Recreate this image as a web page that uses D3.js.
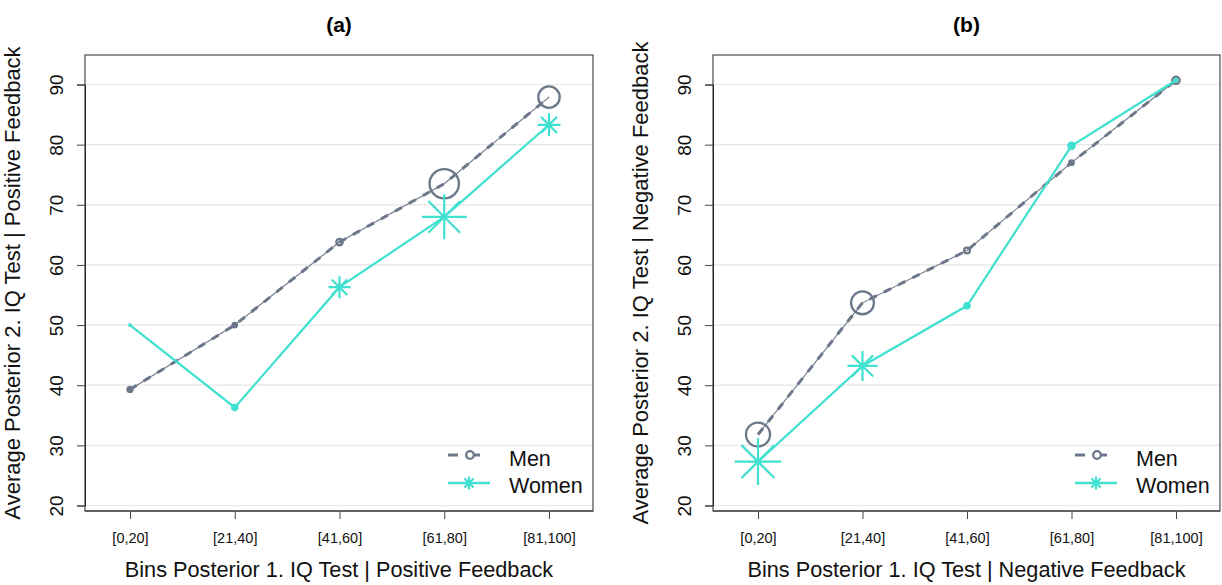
<!DOCTYPE html>
<html><head><meta charset="utf-8">
<script src="https://cdn.jsdelivr.net/npm/d3@7"></script>
<style>body{margin:0;background:#fff;} svg{display:block;font-family:"Liberation Sans",Arial,sans-serif;}</style>
</head><body><svg id="c" width="1222" height="585"></svg>
<script>
// ---------------- data ----------------
const categories = ["[0,20]", "[21,40]", "[41,60]", "[61,80]", "[81,100]"];
const yTicks = [20, 30, 40, 50, 60, 70, 80, 90];
const seriesNames = ["Men", "Women"];
const panelTitles = ["(a)", "(b)"];
const xTitles = ["Bins Posterior 1. IQ Test | Positive Feedback", "Bins Posterior 1. IQ Test | Negative Feedback"];
const yTitles = ["Average Posterior 2. IQ Test | Positive Feedback", "Average Posterior 2. IQ Test | Negative Feedback"];
const menPositive = [39.3, 50.0, 63.8, 73.5, 87.9];
const womenPositive = [50.0, 36.3, 56.3, 68.0, 83.3];
const menNegative = [31.8, 53.7, 62.4, 77.0, 90.7];
const womenNegative = [27.3, 43.2, 53.2, 79.8, 90.7];
// relative number of observations per bin (marker area weights)
const menPositiveWeight = [11, 9, 16, 240, 132];
const womenPositiveWeight = [2, 14, 121, 506, 132];
const menNegativeWeight = [164, 150, 14, 9, 20];
const womenNegativeWeight = [543, 225, 14, 18, 6];

// ---------------- drawing ----------------
const svg = d3.select("#c");
const MEN = "#6c7789", WOMEN = "#40e0d0";
const plotTop = 55, plotBottom = 511;
const panels = [
  {x0: 85, x1: 593, men: menPositive, women: womenPositive, mw: menPositiveWeight, ww: womenPositiveWeight},
  {x0: 713, x1: 1220, men: menNegative, women: womenNegative, mw: menNegativeWeight, ww: womenNegativeWeight}
];
const rScale = d3.scaleSqrt().domain([0, 543]).range([0, 23.3]);

function starPath(r) {
  const d = r * Math.SQRT1_2;
  return `M${-r},0L${r},0M0,${-r}L0,${r}M${-d},${-d}L${d},${d}M${-d},${d}L${d},${-d}`;
}

panels.forEach((p, i) => {
  const g = svg.append("g");
  const x = d3.scalePoint().domain(categories).range([p.x0 + 45, p.x1 - 44]);
  const y = d3.scaleLinear().domain([20, 90]).range([505.5, 84.5]);

  // gridlines
  g.append("g").selectAll("line").data(yTicks).join("line")
    .attr("x1", p.x0).attr("x2", p.x1)
    .attr("y1", d => y(d)).attr("y2", d => y(d))
    .attr("stroke", "#e6e6e6").attr("stroke-width", 1.2);

  // frame
  g.append("rect").attr("x", p.x0).attr("y", plotTop).attr("width", p.x1 - p.x0).attr("height", plotBottom - plotTop)
    .attr("fill", "none").attr("stroke", "#3a3a3a").attr("stroke-width", 1.1);

  // y axis
  const ya = g.append("g").attr("transform", `translate(${p.x0},0)`)
    .call(d3.axisLeft(y).tickValues(yTicks).tickSize(8).tickFormat(d3.format("d")));
  ya.select(".domain").attr("stroke", "#222");
  ya.selectAll(".tick line").attr("stroke", "#444");
  ya.selectAll(".tick text").attr("transform", "rotate(-90)")
    .attr("x", 0).attr("y", -22).attr("dy", 0).attr("text-anchor", "middle")
    .attr("font-size", 19).attr("fill", "#111").attr("font-family", "Liberation Sans, Arial, sans-serif");

  // x axis
  const xa = g.append("g").attr("transform", `translate(0,${plotBottom})`)
    .call(d3.axisBottom(x).tickSize(8));
  xa.select(".domain").attr("stroke", "#333").attr("d", `M${p.x0},0H${p.x1}`);
  xa.selectAll(".tick line").attr("stroke", "#444");
  xa.selectAll(".tick text").attr("y", 32).attr("dy", 0)
    .attr("font-size", 14.5).attr("fill", "#111").attr("font-family", "Liberation Sans, Arial, sans-serif");

  // titles
  g.append("text").attr("x", (p.x0 + p.x1) / 2).attr("y", 32).attr("text-anchor", "middle")
    .attr("font-weight", "bold").attr("font-size", 21).text(panelTitles[i]);
  g.append("text").attr("x", (p.x0 + p.x1) / 2).attr("y", 577).attr("text-anchor", "middle")
    .attr("font-size", 21.7).attr("fill", "#111").text(xTitles[i]);
  g.append("text").attr("transform", `translate(${p.x0 - 65},${(plotTop + plotBottom) / 2}) rotate(-90)`)
    .attr("text-anchor", "middle").attr("font-size", 22).attr("fill", "#111").text(yTitles[i]);

  // men line: thin solid + thick dashes
  const line = d3.line().x((d, j) => x(categories[j])).y(d => y(d));
  g.append("path").attr("d", line(p.men)).attr("fill", "none").attr("stroke", MEN).attr("stroke-width", 1.1);
  g.append("path").attr("d", line(p.men)).attr("fill", "none").attr("stroke", MEN)
    .attr("stroke-width", 3).attr("stroke-dasharray", "8,8");
  // men markers (hollow circles; very small ones render solid)
  g.append("g").selectAll("circle").data(p.men).join("circle")
    .attr("cx", (d, j) => x(categories[j])).attr("cy", d => y(d))
    .attr("r", (d, j) => Math.max(2.2, rScale(p.mw[j]) - 0.8))
    .attr("fill", (d, j) => rScale(p.mw[j]) < 3.6 ? MEN : "none")
    .attr("stroke", MEN).attr("stroke-width", 2.3);

  // women line
  g.append("path").attr("d", line(p.women)).attr("fill", "none").attr("stroke", WOMEN).attr("stroke-width", 2.2);
  g.append("g").selectAll("path").data(p.women).join("path")
    .attr("transform", (d, j) => `translate(${x(categories[j])},${y(d)})`)
    .attr("d", (d, j) => starPath(Math.max(1.5, rScale(p.ww[j]))))
    .attr("fill", "none").attr("stroke", WOMEN)
    .attr("stroke-width", (d, j) => rScale(p.ww[j]) < 5 ? 2.8 : 2.2).attr("stroke-linecap", "butt");

  // legend
  const lx = p.x1 - 145;
  const lg = g.append("g");
  lg.append("line").attr("x1", lx).attr("x2", lx + 32).attr("y1", 455).attr("y2", 455)
    .attr("stroke", MEN).attr("stroke-width", 3).attr("stroke-dasharray", "10,10,12");
  lg.append("circle").attr("cx", lx + 22).attr("cy", 455).attr("r", 3.8)
    .attr("fill", "#fff").attr("stroke", MEN).attr("stroke-width", 2.3);
  lg.append("line").attr("x1", lx).attr("x2", lx + 42).attr("y1", 483).attr("y2", 483)
    .attr("stroke", WOMEN).attr("stroke-width", 2.4);
  lg.append("path").attr("transform", `translate(${lx + 21},483)`).attr("d", starPath(6.5))
    .attr("fill", "none").attr("stroke", WOMEN).attr("stroke-width", 2.2);
  lg.selectAll("text").data(seriesNames).join("text")
    .attr("x", p.x1 - 84).attr("y", (d, k) => 466 + k * 27)
    .attr("font-size", 21.5).attr("fill", "#111").text(d => d);
});
</script></body></html>
